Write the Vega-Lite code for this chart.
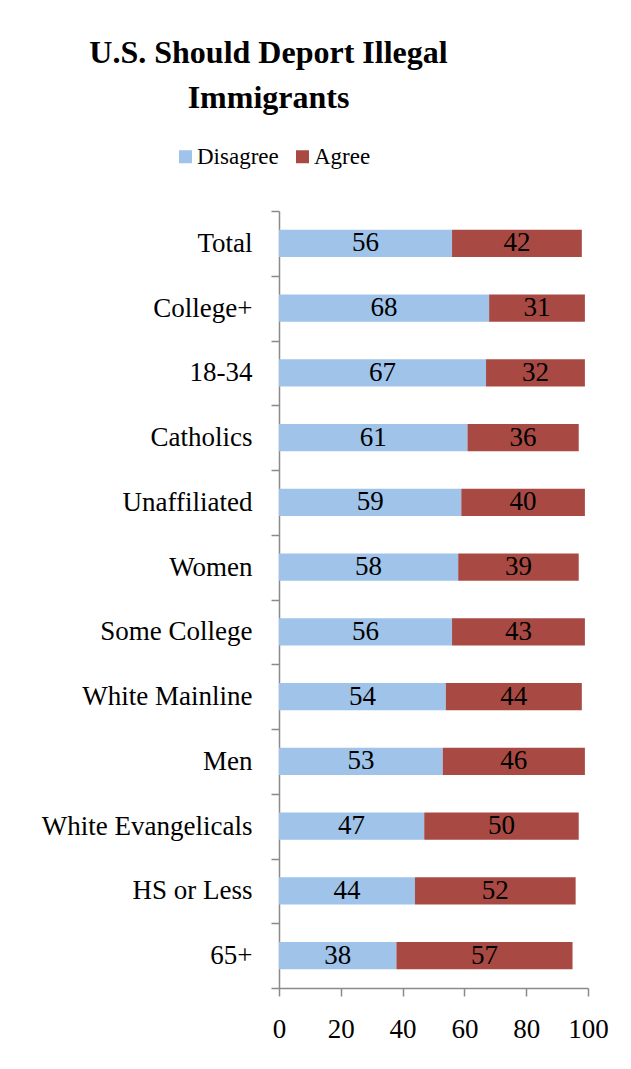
{
  "$schema": "https://vega.github.io/schema/vega-lite/v6.json",
  "autosize": {"type": "none"},
  "width": 309,
  "height": 777,
  "padding": {"left": 279, "top": 211, "right": 43, "bottom": 81},
  "background": "white",
  "config": {"font": "Liberation Serif", "view": {"stroke": null}},
  "title": {
    "text": ["U.S. Should Deport Illegal", "Immigrants"],
    "font": "Liberation Serif",
    "fontSize": 32,
    "fontWeight": "bold",
    "color": "black",
    "anchor": "middle",
    "frame": "group",
    "dx": -165,
    "lineHeight": 45,
    "offset": 30
  },
  "data": {
    "values": [
      {"group": "Total", "response": "Disagree", "value": 56},
      {"group": "Total", "response": "Agree", "value": 42},
      {"group": "College+", "response": "Disagree", "value": 68},
      {"group": "College+", "response": "Agree", "value": 31},
      {"group": "18-34", "response": "Disagree", "value": 67},
      {"group": "18-34", "response": "Agree", "value": 32},
      {"group": "Catholics", "response": "Disagree", "value": 61},
      {"group": "Catholics", "response": "Agree", "value": 36},
      {"group": "Unaffiliated", "response": "Disagree", "value": 59},
      {"group": "Unaffiliated", "response": "Agree", "value": 40},
      {"group": "Women", "response": "Disagree", "value": 58},
      {"group": "Women", "response": "Agree", "value": 39},
      {"group": "Some College", "response": "Disagree", "value": 56},
      {"group": "Some College", "response": "Agree", "value": 43},
      {"group": "White Mainline", "response": "Disagree", "value": 54},
      {"group": "White Mainline", "response": "Agree", "value": 44},
      {"group": "Men", "response": "Disagree", "value": 53},
      {"group": "Men", "response": "Agree", "value": 46},
      {"group": "White Evangelicals", "response": "Disagree", "value": 47},
      {"group": "White Evangelicals", "response": "Agree", "value": 50},
      {"group": "HS or Less", "response": "Disagree", "value": 44},
      {"group": "HS or Less", "response": "Agree", "value": 52},
      {"group": "65+", "response": "Disagree", "value": 38},
      {"group": "65+", "response": "Agree", "value": 57}
    ]
  },
  "transform": [
    {"stack": "value", "groupby": ["group"], "sort": [{"field": "response", "order": "descending"}], "as": ["v0", "v1"]}
  ],
  "encoding": {
    "y": {
      "field": "group",
      "type": "nominal",
      "sort": null,
      "scale": {"paddingInner": 0, "paddingOuter": 0},
      "axis": {
        "title": null,
        "domainColor": "#8a8a8a",
        "domainWidth": 1.5,
        "tickColor": "#8a8a8a",
        "tickWidth": 1.5,
        "tickSize": 8,
        "tickBand": "extent",
        "labelFont": "Liberation Serif",
        "labelFontSize": 27,
        "labelColor": "black",
        "labelPadding": 19,
        "labelLimit": 300
      }
    }
  },
  "layer": [
    {
      "mark": {"type": "bar", "height": {"band": 0.42}},
      "encoding": {
        "x": {
          "field": "v0",
          "type": "quantitative",
          "scale": {"domain": [0, 100], "nice": false},
          "axis": {
            "title": null,
            "values": [0, 20, 40, 60, 80, 100],
            "grid": false,
            "domainColor": "#8a8a8a",
            "domainWidth": 1.5,
            "tickColor": "#8a8a8a",
            "tickWidth": 1.5,
            "tickSize": 8,
            "labelFont": "Liberation Serif",
            "labelFontSize": 27,
            "labelColor": "black",
            "labelPadding": 20,
            "labelFlush": false
          }
        },
        "x2": {"field": "v1"},
        "color": {
          "field": "response",
          "type": "nominal",
          "scale": {"domain": ["Disagree", "Agree"], "range": ["#9fc3e9", "#a84a43"]},
          "legend": {
            "title": null,
            "orient": "none",
            "direction": "horizontal",
            "legendX": -105,
            "legendY": -66,
            "padding": 0,
            "symbolType": "square",
            "symbolSize": 169,
            "symbolStrokeWidth": 0,
            "symbolOpacity": 1,
            "labelFont": "Liberation Serif",
            "labelFontSize": 23,
            "labelColor": "black",
            "labelOffset": 0,
            "columnPadding": 12
          }
        }
      }
    },
    {
      "transform": [
        {"fold": ["v0", "v1"], "as": ["edge", "pos"]},
        {"aggregate": [{"op": "mean", "field": "pos", "as": "mid"}, {"op": "max", "field": "value", "as": "label"}], "groupby": ["group", "response"]}
      ],
      "mark": {"type": "text", "fontSize": 27, "color": "black", "font": "Liberation Serif"},
      "encoding": {
        "x": {"field": "mid", "type": "quantitative"},
        "text": {"field": "label", "type": "quantitative"}
      }
    }
  ]
}
